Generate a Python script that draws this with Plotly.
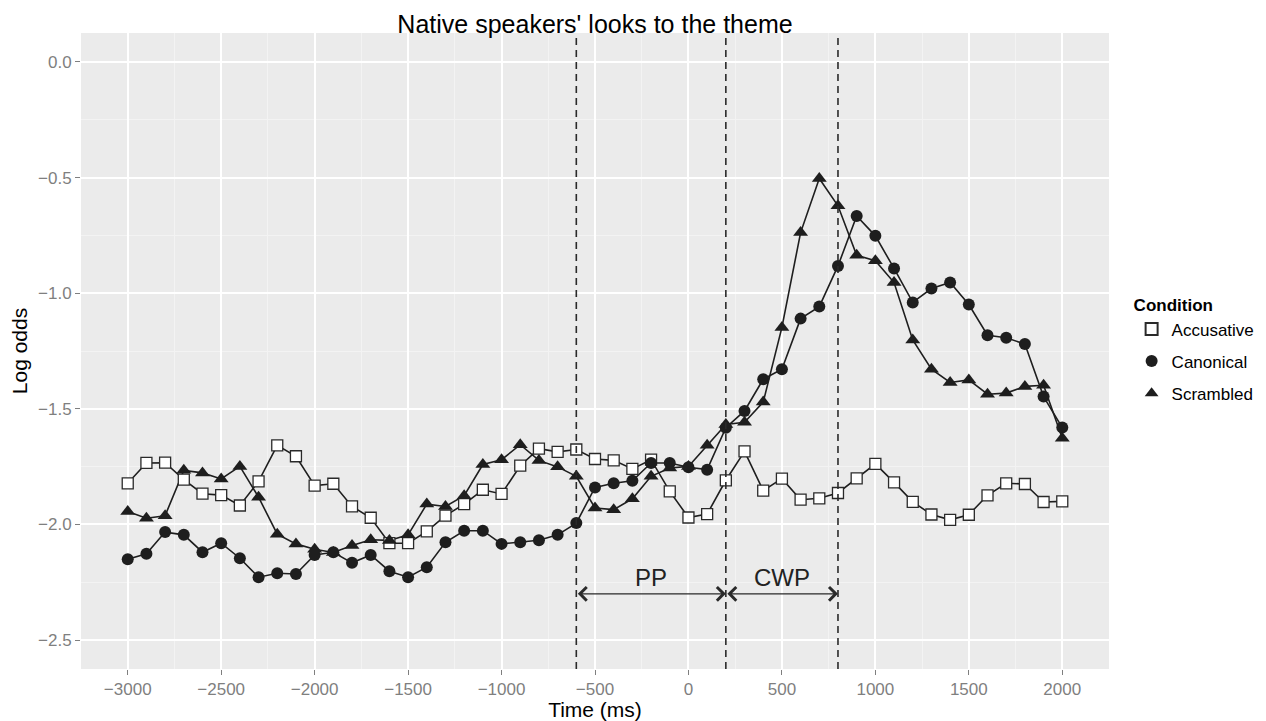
import plotly.graph_objects as go

# ---------------- data ----------------
time_ms = list(range(-3000, 2001, 100))

accusative = [
    -1.822, -1.734, -1.733, -1.806, -1.867, -1.873, -1.918, -1.814, -1.658, -1.705,
    -1.832, -1.824, -1.922, -1.971, -2.081, -2.081, -2.030, -1.962, -1.912, -1.850,
    -1.868, -1.746, -1.672, -1.686, -1.676, -1.717, -1.723, -1.760, -1.720, -1.857,
    -1.970, -1.955, -1.809, -1.684, -1.854, -1.802, -1.893, -1.887, -1.864, -1.801,
    -1.738, -1.818, -1.902, -1.957, -1.980, -1.958, -1.874, -1.822, -1.825, -1.903,
    -1.900,
]

canonical = [
    -2.150, -2.127, -2.033, -2.045, -2.120, -2.081, -2.146, -2.228, -2.211, -2.214,
    -2.132, -2.120, -2.166, -2.132, -2.202, -2.228, -2.185, -2.077, -2.027, -2.027,
    -2.084, -2.077, -2.068, -2.045, -1.994, -1.840, -1.822, -1.811, -1.734, -1.734,
    -1.753, -1.763, -1.582, -1.509, -1.372, -1.329, -1.110, -1.058, -0.882, -0.666,
    -0.752, -0.893, -1.040, -0.980, -0.954, -1.049, -1.182, -1.193, -1.220, -1.447,
    -1.581,
]

scrambled = [
    -1.944, -1.973, -1.962, -1.766, -1.777, -1.803, -1.749, -1.882, -2.042, -2.084,
    -2.107, -2.121, -2.091, -2.066, -2.069, -2.045, -1.912, -1.922, -1.876, -1.741,
    -1.720, -1.655, -1.723, -1.751, -1.792, -1.929, -1.936, -1.889, -1.792, -1.756,
    -1.749, -1.658, -1.568, -1.558, -1.471, -1.148, -0.738, -0.504, -0.622, -0.836,
    -0.860, -0.954, -1.202, -1.329, -1.386, -1.375, -1.437, -1.432, -1.403, -1.398,
    -1.627,
]

series_names = ["Accusative", "Canonical", "Scrambled"]

region_bounds = [-600, 200, 800]
region_labels = ["PP", "CWP"]
region_label_x = [-200, 500]
region_label_y = -2.23
region_arrow_y = -2.30

x_ticks = list(range(-3000, 2001, 500))
y_ticks = [-2.5, -2.0, -1.5, -1.0, -0.5, 0.0]

# ---------------- styling ----------------
INK = "#1e1e1e"
GREY_TXT = "#7f7f7f"
FONT = "Liberation Sans, Arial, Helvetica, sans-serif"

# page body has an 8px default margin, so the figure is a bit smaller
W, H = 1258, 713
ML, MR, MT, MB = 73, 157, 25, 52
panel_center_x = (ML + (W - MR)) / 2 / W

marker_styles = {
    "Accusative": dict(symbol="square", size=11, color="white",
                       line=dict(color="#2a2a2a", width=1.3)),
    "Canonical": dict(symbol="circle", size=12, color=INK,
                      line=dict(color=INK, width=0)),
    "Scrambled": dict(symbol="triangle-up", size=13, color=INK,
                      line=dict(color=INK, width=0)),
}

fig = go.Figure()

data_by_name = {"Accusative": accusative, "Canonical": canonical, "Scrambled": scrambled}

# connecting lines (no legend)
for name in series_names:
    fig.add_trace(go.Scatter(
        x=time_ms, y=data_by_name[name], mode="lines",
        line=dict(color=INK, width=1.6), showlegend=False, hoverinfo="skip",
    ))

# markers (with legend)
for name in series_names:
    fig.add_trace(go.Scatter(
        x=time_ms, y=data_by_name[name], mode="markers", name=name,
        marker=marker_styles[name], legendgroup=name,
    ))

# dashed region boundaries
for xb in region_bounds:
    fig.add_shape(type="line", xref="x", yref="paper", x0=xb, x1=xb, y0=0, y1=1,
                  line=dict(color="#2a2a2a", width=1.6, dash="7px,5px"))

# double-headed arrows and labels
for i, lab in enumerate(region_labels):
    x0, x1 = region_bounds[i], region_bounds[i + 1]
    fig.add_annotation(x=x1, y=region_arrow_y, ax=x0, ay=region_arrow_y,
                       xref="x", yref="y", axref="x", ayref="y", text="",
                       showarrow=True, arrowhead=4, startarrowhead=4,
                       arrowside="end+start", arrowsize=2.2, startarrowsize=2.2,
                       arrowwidth=1.2, arrowcolor="#2a2a2a",
                       standoff=0, startstandoff=0)
    fig.add_annotation(x=region_label_x[i], y=region_label_y, xref="x", yref="y",
                       text=lab, showarrow=False,
                       font=dict(family=FONT, size=24, color="#222222"))

fig.update_layout(
    width=W, height=H,
    margin=dict(l=ML, r=MR, t=MT, b=MB, autoexpand=False),
    paper_bgcolor="white",
    plot_bgcolor="#ebebeb",
    font=dict(family=FONT, color="black"),
    title=dict(text="Native speakers' looks to the theme", x=panel_center_x,
               xanchor="center", y=1 - 7 / H, yanchor="top", pad=dict(t=0, b=0),
               font=dict(family=FONT, size=25, color="black")),
    showlegend=True,
    legend=dict(
        x=1.022, xanchor="left", y=0.597, yanchor="top",
        title=dict(text="<b>Condition</b>", font=dict(family=FONT, size=17, color="black")),
        font=dict(family=FONT, size=17, color="black"),
        tracegroupgap=7, bgcolor="rgba(0,0,0,0)",
        itemsizing="constant",
    ),
    xaxis=dict(
        range=[-3250, 2250], tickmode="array", tickvals=x_ticks,
        automargin=False,
        ticks="outside", ticklen=5, tickwidth=1.2, tickcolor=GREY_TXT,
        tickfont=dict(family=FONT, size=17, color=GREY_TXT),
        showgrid=True, gridcolor="white", gridwidth=1.6,
        minor=dict(dtick=250, tick0=-3000, showgrid=True, gridcolor="#f3f3f3",
                   gridwidth=0.8, ticks=""),
        zeroline=False, showline=False,
        title=dict(text="Time (ms)", standoff=3,
                   font=dict(family=FONT, size=21, color="black")),
    ),
    yaxis=dict(
        range=[-2.625, 0.125], tickmode="array", tickvals=y_ticks,
        tickformat=".1f", automargin=False,
        ticks="outside", ticklen=5, tickwidth=1.2, tickcolor=GREY_TXT,
        tickfont=dict(family=FONT, size=17, color=GREY_TXT),
        showgrid=True, gridcolor="white", gridwidth=1.6,
        minor=dict(dtick=0.25, tick0=0, showgrid=True, gridcolor="#f3f3f3",
                   gridwidth=0.8, ticks=""),
        zeroline=False, showline=False,
        title=dict(text="Log odds", standoff=10,
                   font=dict(family=FONT, size=21, color="black")),
    ),
)

fig.write_html("out.html")
